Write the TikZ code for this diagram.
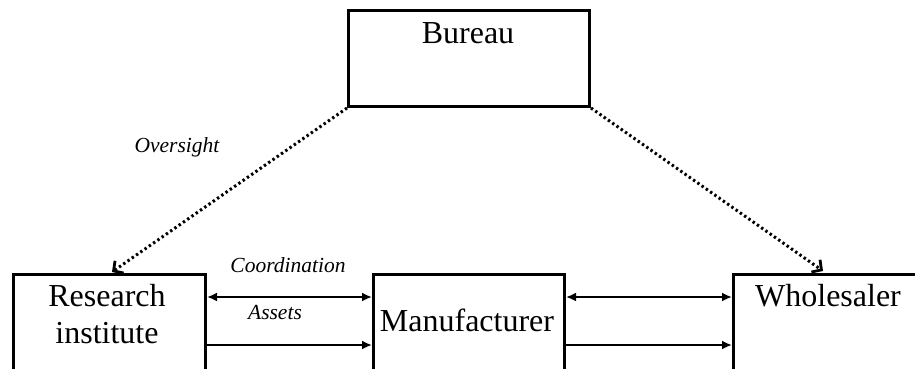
\documentclass[tikz,border=0pt]{standalone}
\usepackage{fontspec}
\setmainfont{Liberation Serif}
\usetikzlibrary{arrows.meta}
\begin{document}
\begin{tikzpicture}[x=1pt,y=-1pt,
  box/.style={draw=black,line width=3pt,inner sep=0pt,anchor=north west},
  boxtext/.style={font=\fontsize{32}{37}\selectfont,inner sep=0pt,anchor=base},
  tag/.style={font=\fontsize{21.5}{25}\selectfont\itshape,inner sep=0pt,anchor=base},
  flow/.style={line width=2.6pt,-{Latex[length=10pt,width=9pt]}},
  both/.style={line width=2.6pt,{Latex[length=10pt,width=9pt]}-{Latex[length=10pt,width=9pt]}},
  watch/.style={line width=3pt,dash pattern=on 2.4pt off 2.8pt,
    -{Straight Barb[length=7pt,width=15pt,line width=2.8pt]}}]
  \useasboundingbox (0,0) rectangle (915,368);
  \clip (0,0) rectangle (915,368);

  % boxes (the lower row runs past the bottom edge)
  \node[box,minimum width=241pt,minimum height=96pt] (bu) at (347,9) {};
  \node[box,minimum width=192pt,minimum height=130pt] (ri) at (12,273) {};
  \node[box,minimum width=191pt,minimum height=130pt] (mf) at (372,273) {};
  \node[box,minimum width=200pt,minimum height=130pt] (wh) at (732,273) {};

  % box texts
  \node[boxtext] (tbu) at (468,43) {Bureau};
  \node[boxtext] (tri1) at (107,306) {Research};
  \node[boxtext] (tri2) at (107,343) {institute};
  \node[boxtext] (tmf) at (467,331) {Manufacturer};
  \node[boxtext] (twh) at (828,306) {Wholesaler};

  % oversight links
  \coordinate (riT) at (112,272);
  \coordinate (whT) at (823,271);
  \draw[watch] (bu.south west) -- (riT);
  \draw[watch] (bu.south east) -- (whT);

  % horizontal links
  \draw[both] ([yshift=-24pt]ri.north east) -- ([yshift=-24pt]mf.north west);
  \draw[flow] ([yshift=-72pt]ri.north east) -- ([yshift=-72pt]mf.north west);
  \draw[both] ([yshift=-24pt]mf.north east) -- ([yshift=-24pt]wh.north west);
  \draw[flow] ([yshift=-72pt]mf.north east) -- ([yshift=-72pt]wh.north west);

  % link labels
  \node[tag] (lov) at (177,152) {Oversight};
  \node[tag] (lco) at (288,272) {Coordination};
  \node[tag] (las) at (275,319) {Assets};
\end{tikzpicture}
\end{document}
